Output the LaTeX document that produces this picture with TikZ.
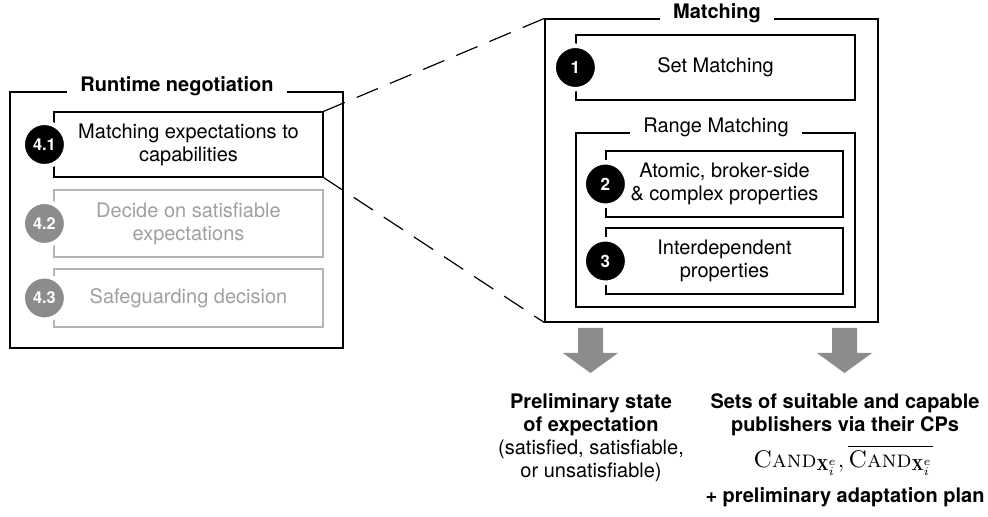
\documentclass[tikz,border=0pt]{standalone}
\usepackage{amsmath, amssymb}
\usepackage{fontspec}
\newfontfamily\helv{TeX Gyre Heros}
\usetikzlibrary{positioning, calc}
\definecolor{cGrey}{HTML}{8C8C8C}
\definecolor{cLight}{HTML}{B4B4B4}
\definecolor{cText}{HTML}{A0A0A0}
\newcommand{\figfont}{\helv\fontsize{10}{11.5}\selectfont}

\tikzset{
    frame/.style={draw, line width=0.6pt, minimum width=166.5pt, inner sep=0pt},
    frametitle/.style={fill=white, anchor=base, inner xsep=6.5pt, inner ysep=2pt,
        font=\figfont\bfseries},
    stage/.style={draw, line width=0.6pt, align=center, inner sep=0pt,
        minimum width=134.5pt, font=\figfont},
    stagegray/.style={stage, draw=cLight, text=cText},
    badge/.style={circle, fill=black, draw=white, line width=2.25pt,
        minimum size=21.75pt, inner sep=0pt, text=white,
        font=\figfont\bfseries\fontsize{8.5}{8.5}\selectfont},
    badgegray/.style={badge, fill=cGrey},
    subbadge/.style={font=\figfont\bfseries\fontsize{8.2}{8.2}\selectfont},
    zoomline/.style={line width=0.6pt, dash pattern=on 11.5pt off 6.5pt},
    result/.style={align=center, inner sep=0pt, font=\figfont}
}

\begin{document}
\begin{tikzpicture}[x=0.5pt, y=-0.5pt]
    \useasboundingbox (0,0) rectangle (988,517);

    % runtime negotiation
    \node[frame, minimum height=128pt] (neg) at (176.5,220) {};
    \node[frametitle] (negT) at (177,92) {Runtime negotiation};
    \node[stage, minimum height=32.5pt] (s41) at (188.5,144.5)
        {Matching expectations to\\capabilities};
    \node[stagegray, minimum height=33.5pt] (s42) at (188.5,223.5)
        {Decide on satisfiable\\expectations};
    \node[stagegray, minimum height=29pt] (s43) at (188.5,298)
        {Safeguarding decision};
    \node[badge, subbadge] (n41) at ([xshift=-4.5pt]s41.west) {4.1};
    \node[badgegray, subbadge] (n42) at ([xshift=-4.5pt]s42.west) {4.2};
    \node[badgegray, subbadge] (n43) at ([xshift=-4.5pt]s43.west) {4.3};

    % matching
    \node[frame, minimum height=151.5pt] (match) at (711.5,170.5) {};
    \node[frametitle] (matchT) at (717,19) {Matching};
    \node[stage, minimum width=139.5pt, minimum height=32.5pt] (setm) at (715.5,67.5)
        {Set Matching};
    \node[stage, minimum width=139.5pt, minimum height=87pt] (range) at (715.5,220) {};
    \node[frametitle, font=\figfont] (rangeT) at (716,133) {Range Matching};
    \node[stage, minimum width=118.5pt, minimum height=33pt] (atom) at (724.5,184)
        {Atomic, broker-side\\\& complex properties};
    \node[stage, minimum width=118.5pt, minimum height=33pt] (inter) at (724.5,261)
        {Interdependent\\properties};
    \node[badge] (n1) at (setm.west) {1};
    \node[badge] (n2) at (atom.west) {2};
    \node[badge] (n3) at (inter.west) {3};

    % zoom
    \draw[zoomline] (s41.north east) -- (match.north west);
    \draw[zoomline] (s41.south east) -- (match.south west);

    % outputs
    \begin{scope}[shift={(590.5,328)}]
        \fill[cGrey] (-12.5,0) -- (12.5,0) -- (12.5,25) -- (27.5,25) -- (0,45)
            -- (-27.5,25) -- (-12.5,25) -- cycle;
    \end{scope}
    \begin{scope}[shift={(844.5,328)}]
        \fill[cGrey] (-12.5,0) -- (12.5,0) -- (12.5,25) -- (27.5,25) -- (0,45)
            -- (-27.5,25) -- (-12.5,25) -- cycle;
    \end{scope}
    \node[result, anchor=north] (state) at (591,393)
        {\textbf{Preliminary state}\\\textbf{of expectation}\\(satisfied, satisfiable,\\or unsatisfiable)};
    \node[result, anchor=north] (pubs) at (845,393)
        {\textbf{Sets of suitable and capable}\\\textbf{publishers via their CPs}};
    \node[result, anchor=base, font=\figfont\fontsize{12}{14}\selectfont] (cand) at (843,467)
        {$\textrm{\textsc{Cand}}_{\mathbf{X}_i^e}, \overline{\textrm{\textsc{Cand}}_{\mathbf{X}_i^e}}$};
    \node[result, anchor=base, font=\figfont\bfseries] (plan) at (845,502)
        {+ preliminary adaptation plan};
\end{tikzpicture}
\end{document}
